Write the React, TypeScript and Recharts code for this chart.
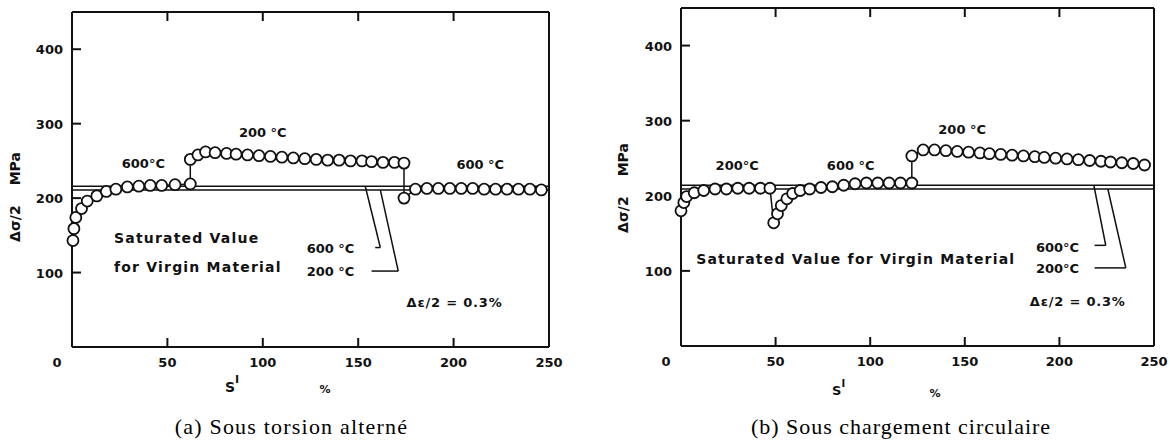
import React from 'react';
import { LineChart, Line, XAxis, YAxis, ReferenceLine, ReferenceDot } from 'recharts';

// ---------- Panel (a): Sous torsion alterné ----------
const torsion600aX = [0.5, 1, 2, 5, 8, 13, 18, 23, 29, 35, 41, 47, 54, 62];
const torsion600aY = [143, 159, 174, 186, 196, 203, 209, 212, 215, 216, 217, 217, 218, 219];
const torsion200X = [62, 66, 70, 75, 81, 86, 92, 98, 104, 110, 116, 122, 128, 134, 140, 146, 152, 157, 163, 169, 174];
const torsion200Y = [252, 258, 262, 261, 260, 259, 258, 257, 256, 255, 254, 253, 252, 251, 251, 250, 250, 249, 248, 248, 247];
const torsion600bX = [174, 180, 186, 192, 198, 204, 210, 216, 222, 228, 234, 240, 246];
const torsion600bY = [200, 212, 213, 213, 213, 213, 213, 212, 212, 212, 212, 212, 211];
const torsionVirgin = [216, 211]; // 600 °C, 200 °C

// ---------- Panel (b): Sous chargement circulaire ----------
const circ200aX = [0, 1.5, 3, 7, 12, 18, 24, 30, 36, 42, 47];
const circ200aY = [180, 191, 199, 204, 207, 209, 209, 210, 210, 210, 210];
const circ600X = [49, 51, 53, 56, 59, 63, 68, 74, 80, 86, 92, 98, 104, 110, 116, 122];
const circ600Y = [164, 176, 187, 196, 203, 207, 209, 211, 212, 214, 216, 217, 217, 217, 217, 217];
const circ200bX = [122, 128, 134, 140, 146, 152, 158, 163, 169, 175, 181, 187, 192, 198, 204, 210, 216, 222, 227, 233, 239, 245];
const circ200bY = [253, 261, 261, 260, 259, 258, 257, 256, 255, 254, 253, 252, 251, 250, 249, 248, 247, 246, 245, 244, 243, 241];
const circVirgin = [214, 209]; // 600 °C, 200 °C

// ---------- Axes ----------
const xTicks = [0, 50, 100, 150, 200, 250];
const xInnerTicks = [50, 100, 150, 200];
const yTicks = [100, 200, 300, 400];
const xDomain: [number, number] = [0, 250];
const yDomain: [number, number] = [0, 450];
const TICK = 9;

const ink = '#111';
const sans = "'DejaVu Sans', 'Liberation Sans', sans-serif";
const serif = "'Liberation Serif', 'DejaVu Serif', serif";

type Pt = { x: number; y: number };
type Seg = [Pt, Pt];

const build = (xs: number[][], ys: number[][]) => {
  const out: Pt[] = [];
  xs.forEach((arr, i) => arr.forEach((x, j) => out.push({ x, y: ys[i][j] })));
  return out;
};

const torsionData = build([torsion600aX, torsion200X, torsion600bX], [torsion600aY, torsion200Y, torsion600bY]);
const circData = build([circ200aX, circ600X, circ200bX], [circ200aY, circ600Y, circ200bY]);

// mirrored axes: tick marks point inward; labels are placed back outside
const BottomTick = (props: any) => {
  const { x, y, payload } = props;
  const v = payload.value;
  return (
    <text x={x + (v === 0 ? -15 : 0)} y={y + TICK + 20} textAnchor="middle" fontFamily={sans} fontWeight="bold" fontSize={13} fill={ink}>
      {v}
    </text>
  );
};
const LeftTick = (props: any) => {
  const { x, y, payload } = props;
  return (
    <text x={x - TICK - 9} y={y + 5} textAnchor="end" fontFamily={sans} fontWeight="bold" fontSize={13} fill={ink}>
      {payload.value}
    </text>
  );
};
const NoLabel = () => <g />;

const Txt = (text: string, anchor: 'start' | 'middle' | 'end' = 'middle', size = 13, spacing = 0) => (p: any) => (
  <text x={p.cx} y={p.cy + size * 0.36} textAnchor={anchor} fontFamily={sans} fontWeight="bold" fontSize={size} letterSpacing={spacing} fill={ink}>
    {text}
  </text>
);

type Note = { x: number; y: number; text: string; anchor?: 'start' | 'middle' | 'end'; size?: number; spacing?: number };

const torsionNotes: Note[] = [
  { x: 37.4, y: 247, text: '600°C' },
  { x: 100, y: 288, text: '200 °C' },
  { x: 214, y: 245, text: '600 °C' },
  { x: 22, y: 147, text: 'Saturated Value', anchor: 'start', size: 14, spacing: 1.2 },
  { x: 22, y: 107, text: 'for Virgin Material', anchor: 'start', size: 14, spacing: 1.2 },
  { x: 135.5, y: 132, text: '600 °C' },
  { x: 135.5, y: 101, text: '200 °C' },
  { x: 200.5, y: 59.5, text: 'Δε/2 = 0.3%', size: 13, spacing: 0.8 },
];
const torsionLeaders: Seg[] = [
  [{ x: 153.7, y: torsionVirgin[0] }, { x: 161.6, y: 133.6 }],
  [{ x: 161.6, y: 133.6 }, { x: 158.9, y: 133.6 }],
  [{ x: 161.6, y: torsionVirgin[1] }, { x: 171, y: 102 }],
  [{ x: 171, y: 102 }, { x: 157, y: 102 }],
];

const circNotes: Note[] = [
  { x: 29.7, y: 241, text: '200°C' },
  { x: 89.7, y: 241, text: '600 °C' },
  { x: 148.6, y: 288, text: '200 °C' },
  { x: 8, y: 116.5, text: 'Saturated Value for Virgin Material', anchor: 'start', size: 14, spacing: 1.2 },
  { x: 199, y: 132, text: '600°C' },
  { x: 199, y: 103, text: '200°C' },
  { x: 209.7, y: 60, text: 'Δε/2 = 0.3%', size: 13, spacing: 0.8 },
];
const circLeaders: Seg[] = [
  [{ x: 218.2, y: circVirgin[0] }, { x: 224.5, y: 134 }],
  [{ x: 224.5, y: 134 }, { x: 218.6, y: 134 }],
  [{ x: 225.6, y: circVirgin[1] }, { x: 235.1, y: 104 }],
  [{ x: 235.1, y: 104 }, { x: 218.6, y: 104 }],
];

const axisLine = { stroke: ink, strokeWidth: 2 };
const tickLine = { stroke: ink, strokeWidth: 2 };

const Panel = ({ data, width, margin, virgin, notes, leaders }: any) => (
  <LineChart width={width} height={441} data={data} margin={margin}>
    <XAxis dataKey="x" type="number" domain={xDomain} ticks={xTicks} interval={0} height={1} mirror tickSize={TICK} tickMargin={0} tickLine={tickLine} axisLine={axisLine} tick={<BottomTick />} />
    <XAxis xAxisId="top" dataKey="x" orientation="top" type="number" domain={xDomain} ticks={xInnerTicks} interval={0} height={1} mirror tickSize={TICK} tickMargin={0} tickLine={tickLine} axisLine={axisLine} tick={<NoLabel />} />
    <YAxis type="number" domain={yDomain} ticks={yTicks} interval={0} width={1} mirror tickSize={TICK} tickMargin={0} tickLine={tickLine} axisLine={axisLine} tick={<LeftTick />} />
    <YAxis yAxisId="right" orientation="right" type="number" domain={yDomain} ticks={yTicks} interval={0} width={1} mirror tickSize={TICK} tickMargin={0} tickLine={tickLine} axisLine={axisLine} tick={<NoLabel />} />
    {virgin.map((v: number, i: number) => (
      <ReferenceLine key={'v' + i} y={v} stroke={ink} strokeWidth={1.5} />
    ))}
    {leaders.map((s: Seg, i: number) => (
      <ReferenceLine key={'l' + i} segment={s} stroke={ink} strokeWidth={1.5} ifOverflow="visible" />
    ))}
    {notes.map((n: Note, i: number) => (
      <ReferenceDot key={'n' + i} x={n.x} y={n.y} r={0} ifOverflow="visible" shape={Txt(n.text, n.anchor || 'middle', n.size || 13, n.spacing || 0)} />
    ))}
    <Line
      dataKey="y"
      type="linear"
      stroke={ink}
      strokeWidth={1.5}
      isAnimationActive={false}
      dot={{ r: 5.5, fill: '#fff', stroke: ink, strokeWidth: 1.8 }}
      activeDot={false}
    />
  </LineChart>
);

export default function App() {
  return (
    <div style={{ position: 'absolute', left: 0, top: 0, width: 1170, height: 441, background: '#fff', overflow: 'hidden' }}>
      <div style={{ position: 'absolute', left: 0, top: 0 }}>
        <Panel data={torsionData} width={590} margin={{ top: 12, right: 41, bottom: 94, left: 72 }} virgin={torsionVirgin} notes={torsionNotes} leaders={torsionLeaders} />
      </div>
      <div style={{ position: 'absolute', left: 590, top: 0 }}>
        <Panel data={circData} width={580} margin={{ top: 8, right: 16, bottom: 95, left: 91 }} virgin={circVirgin} notes={circNotes} leaders={circLeaders} />
      </div>
      <svg width={1170} height={441} style={{ position: 'absolute', left: 0, top: 0, pointerEvents: 'none' }}>
        <g fontFamily={sans} fontWeight="bold" fill={ink}>
          <text transform="translate(20,197) rotate(-90)" textAnchor="middle" fontSize={14}>
            Δσ/2<tspan dx={20}>MPa</tspan>
          </text>
          <text transform="translate(628,188) rotate(-90)" textAnchor="middle" fontSize={14}>
            Δσ/2<tspan dx={20}>MPa</tspan>
          </text>
          <text x={225} y={392} fontSize={14}>
            S<tspan dy={-9} fontSize={11}>I</tspan>
          </text>
          <text x={325} y={393} fontSize={11} textAnchor="middle">%</text>
          <text x={832} y={395} fontSize={13}>
            S<tspan dy={-8} fontSize={10}>I</tspan>
          </text>
          <text x={935} y={397} fontSize={11} textAnchor="middle">%</text>
        </g>
        <g fontFamily={serif} fill="#000" fontSize={22}>
          <text x={291.5} y={434} textAnchor="middle" letterSpacing={1.2}>(a) Sous torsion alterné</text>
          <text x={901} y={434} textAnchor="middle" letterSpacing={1}>(b) Sous chargement circulaire</text>
        </g>
      </svg>
    </div>
  );
}
